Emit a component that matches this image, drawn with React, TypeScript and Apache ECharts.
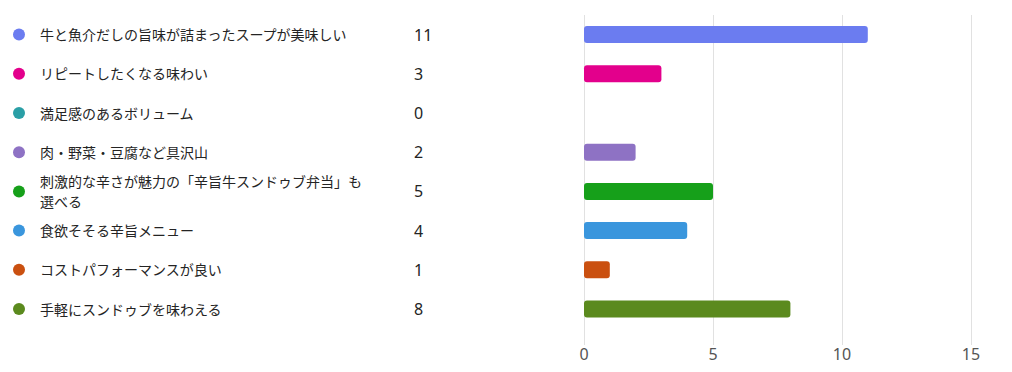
import React, { useEffect, useRef } from "react";
import * as echarts from "echarts";

const categories = [
  "牛と魚介だしの旨味が詰まったスープが美味しい",
  "リピートしたくなる味わい",
  "満足感のあるボリューム",
  "肉・野菜・豆腐など具沢山",
  "刺激的な辛さが魅力の「辛旨牛スンドゥブ弁当」も\n選べる",
  "食欲そそる辛旨メニュー",
  "コストパフォーマンスが良い",
  "手軽にスンドゥブを味わえる",
];
const values = [11, 3, 0, 2, 5, 4, 1, 8];
const colors = [
  "#6B7CF0",
  "#E3008C",
  "#2A9FA6",
  "#8E72C4",
  "#16A01A",
  "#3A96DD",
  "#CA5010",
  "#5B8A1E",
];
const xTicks = [0, 5, 10, 15];

const FONT = "'Noto Sans', 'Noto Sans CJK JP', sans-serif";

export default function App() {
  const ref = useRef<HTMLDivElement>(null);
  useEffect(() => {
    if (!ref.current) return;
    const chart = echarts.init(ref.current, undefined, { renderer: "svg" });
    const left = 584;
    const right = 41;
    const top = 15;
    const barBottom = 43.4;
    const lineBottom = 27;
    const xMin = xTicks[0];
    const xMax = xTicks[xTicks.length - 1];
    const step = xTicks[1] - xTicks[0];

    const rich: Record<string, any> = {};
    colors.forEach((c, i) => {
      rich["c" + i] = { width: 12, height: 12, borderRadius: 6, backgroundColor: c };
    });

    const hiddenX = (gi: number) => ({
      type: "value",
      gridIndex: gi,
      min: xMin,
      max: xMax,
      interval: step,
      show: false,
    });
    const catY = (gi: number, extra: any) => ({
      type: "category",
      gridIndex: gi,
      inverse: true,
      data: categories,
      axisLine: { show: false },
      axisTick: { show: false },
      splitLine: { show: false },
      ...extra,
    });

    chart.setOption({
      animation: false,
      textStyle: { fontFamily: FONT },
      grid: [
        { left, right, top, bottom: lineBottom },
        { left, right, top, bottom: barBottom },
        { left, right, top, bottom: barBottom },
        { left, right, top, bottom: barBottom },
      ],
      xAxis: [
        {
          type: "value",
          gridIndex: 0,
          min: xMin,
          max: xMax,
          interval: step,
          axisLine: { show: false },
          axisTick: { show: false },
          splitLine: { show: true, lineStyle: { color: "#E1E1E1", width: 1 } },
          axisLabel: { color: "#555555", fontSize: 16, margin: 1, fontFamily: FONT },
        },
        hiddenX(1),
        hiddenX(2),
        hiddenX(3),
      ],
      yAxis: [
        {
          type: "category",
          gridIndex: 0,
          data: [""],
          show: false,
        },
        catY(1, {
          axisLabel: {
            align: "left",
            margin: left - 40,
            color: "#242424",
            fontSize: 14,
            lineHeight: 20,
            fontFamily: FONT,
          },
        }),
        catY(2, {
          axisLabel: {
            align: "left",
            margin: left - 13,
            formatter: (_v: string, i: number) => `{c${i}| }`,
            rich,
          },
        }),
        catY(3, {
          axisLabel: {
            align: "left",
            margin: left - 414,
            color: "#242424",
            fontSize: 16,
            fontFamily: FONT,
            formatter: (_v: string, i: number) => String(values[i]),
          },
        }),
      ],
      series: [
        {
          type: "bar",
          xAxisIndex: 1,
          yAxisIndex: 1,
          barWidth: 17,
          data: values.map((v, i) => ({
            value: v,
            itemStyle: { color: colors[i], borderRadius: 3 },
          })),
        },
      ],
    });
    return () => chart.dispose();
  }, []);
  return (
    <div
      ref={ref}
      style={{ position: "fixed", left: 0, top: 0, width: 1012, height: 372, background: "#fff" }}
    />
  );
}
